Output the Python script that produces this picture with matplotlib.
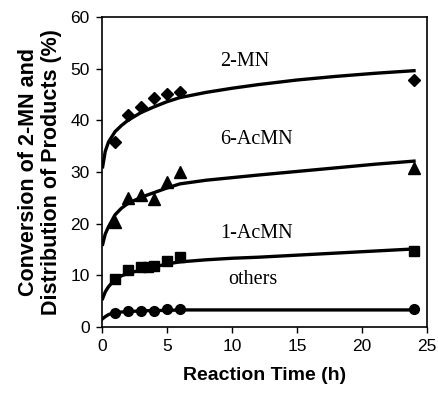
import matplotlib.pyplot as plt

# measured points
t_points = [1, 2, 3, 4, 5, 6, 24]
mn2_points = [35.8, 41.0, 42.6, 44.4, 45.1, 45.5, 47.8]
acmn6_points = [20.3, 25.0, 25.5, 24.8, 28.0, 30.0, 30.8]
t_sq = [1, 2, 3, 3.5, 4, 5, 6, 24]
acmn1_points = [9.2, 11.0, 11.6, 11.7, 11.8, 12.8, 13.6, 14.8]
others_points = [2.7, 3.0, 3.1, 3.1, 3.4, 3.5, 3.4]

# fitted curves
t_fit = [0.05, 0.25, 0.5, 1, 1.5, 2, 3, 4, 5, 6, 8, 10, 12, 15, 18, 21, 24]
mn2_fit = [31.0, 34.0, 35.8, 37.8, 39.0, 40.0, 41.5, 42.6, 43.6, 44.4,
           45.4, 46.2, 46.9, 47.8, 48.5, 49.1, 49.6]
acmn6_fit = [16.0, 18.0, 19.4, 21.7, 23.0, 23.9, 25.1, 26.0, 26.9, 27.7,
             28.4, 28.9, 29.4, 30.1, 30.8, 31.5, 32.1]
acmn1_fit = [5.5, 6.8, 7.8, 9.2, 9.9, 10.4, 11.0, 11.6, 12.2, 12.6,
             13.0, 13.3, 13.5, 13.9, 14.3, 14.7, 15.1]
others_fit = [1.6, 2.0, 2.4, 2.8, 2.9, 3.0, 3.1, 3.2, 3.2, 3.3,
              3.3, 3.3, 3.3, 3.3, 3.3, 3.3, 3.3]

fig = plt.figure(figsize=(4.38, 3.99), dpi=100)
ax = fig.add_axes([0.2329, 0.1805, 0.742, 0.777])

lw = 2.4
ax.plot(t_fit, mn2_fit, color="black", lw=lw)
ax.plot(t_fit, acmn6_fit, color="black", lw=lw)
ax.plot(t_fit, acmn1_fit, color="black", lw=lw)
ax.plot(t_fit, others_fit, color="black", lw=lw)

ax.plot(t_points, mn2_points, "D", color="black", ms=6.5, ls="none")
ax.plot(t_points, acmn6_points, "^", color="black", ms=8, ls="none")
ax.plot(t_sq, acmn1_points, "s", color="black", ms=7, ls="none")
ax.plot(t_points, others_points, "o", color="black", ms=7, ls="none")

serif = dict(family="Liberation Serif", fontsize=14.5, ha="center", va="center")
ax.text(11.0, 51.3, "2-MN", **serif)
ax.text(11.9, 36.3, "6-AcMN", **serif)
ax.text(11.9, 18.1, "1-AcMN", **serif)
ax.text(11.6, 9.1, "others", **serif)

ax.set_xlim(0, 25)
ax.set_ylim(0, 60)
ax.set_xticks([0, 5, 10, 15, 20, 25])
ax.set_yticks([0, 10, 20, 30, 40, 50, 60])
ax.tick_params(direction="out", length=4, width=1, labelsize=12.5, pad=5)
for lab in ax.get_xticklabels() + ax.get_yticklabels():
    lab.set_family("Liberation Sans")
for s in ax.spines.values():
    s.set_linewidth(1.2)

ax.set_xlabel("Reaction Time (h)", family="Liberation Sans", fontsize=14,
              fontweight="bold", labelpad=9)
ax.set_ylabel("Conversion of 2-MN and\nDistribution of Products (%)",
              family="Liberation Sans", fontsize=15.5, fontweight="bold",
              labelpad=6, linespacing=1.1)

plt.savefig("out.png", dpi=100)
